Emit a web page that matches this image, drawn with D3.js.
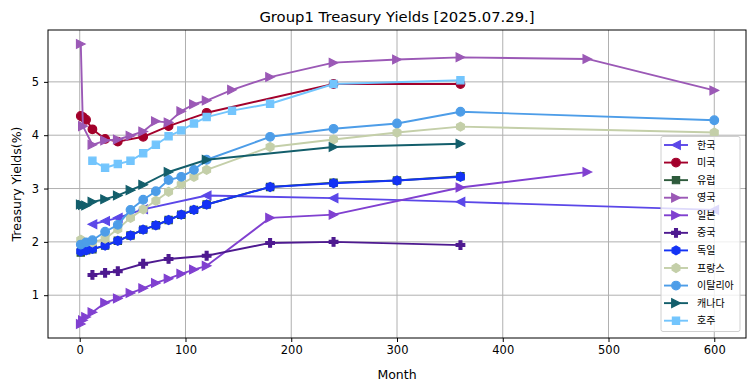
<!DOCTYPE html>
<html>
<head>
<meta charset="utf-8">
<script src="https://cdn.jsdelivr.net/npm/d3@7"></script>
<style>
  html, body { margin: 0; padding: 0; background: #fff; }
  svg { display: block; }
</style>
</head>
<body>
<svg id="chart" width="755" height="391"></svg>
<script>
// ---- data ----
const chartTitle = "Group1 Treasury Yields [2025.07.29.]";
const xLabel = "Month";
const yLabel = "Treasury Yields(%)";
const xTicks = [0, 100, 200, 300, 400, 500, 600];
const yTicks = [1, 2, 3, 4, 5];

const seriesNames = ["한국", "미국", "유럽", "영국", "일본", "중국", "독일", "프랑스", "이탈리아", "캐나다", "호주"];

const koreaMonths = [12, 24, 36, 60, 120, 240, 360, 600];
const koreaYields = [2.33, 2.39, 2.45, 2.61, 2.87, 2.82, 2.75, 2.60];

const usMonths = [1, 3, 6, 12, 24, 36, 60, 84, 120, 240, 360];
const usYields = [4.36, 4.34, 4.29, 4.11, 3.93, 3.88, 3.97, 4.17, 4.42, 4.96, 4.96];

const euMonths = [1, 6, 12, 24, 36, 48, 60, 72, 84, 96, 108, 120, 180, 240, 300, 360];
const euYields = [1.80, 1.84, 1.86, 1.93, 2.02, 2.12, 2.23, 2.31, 2.41, 2.51, 2.60, 2.70, 3.03, 3.11, 3.15, 3.23];

const ukMonths = [1, 3, 12, 24, 36, 48, 60, 72, 84, 96, 108, 120, 144, 180, 240, 300, 360, 480, 600];
const ukYields = [5.71, 4.17, 3.82, 3.90, 3.92, 3.99, 4.07, 4.26, 4.24, 4.45, 4.58, 4.65, 4.85, 5.09, 5.36, 5.42, 5.46, 5.43, 4.84];

const japanMonths = [1, 3, 6, 12, 24, 36, 48, 60, 72, 84, 96, 108, 120, 180, 240, 360, 480];
const japanYields = [0.46, 0.53, 0.59, 0.68, 0.86, 0.94, 1.04, 1.13, 1.23, 1.31, 1.40, 1.48, 1.55, 2.45, 2.51, 3.02, 3.31];

const chinaMonths = [12, 24, 36, 60, 84, 120, 180, 240, 360];
const chinaYields = [1.38, 1.42, 1.45, 1.59, 1.68, 1.74, 1.98, 2.00, 1.94];

const germanyMonths = [1, 6, 12, 24, 36, 48, 60, 72, 84, 96, 108, 120, 180, 240, 300, 360];
const germanyYields = [1.82, 1.84, 1.87, 1.93, 2.02, 2.12, 2.23, 2.31, 2.41, 2.51, 2.60, 2.70, 3.03, 3.10, 3.15, 3.22];

const franceMonths = [1, 12, 24, 36, 48, 60, 72, 84, 96, 108, 120, 180, 240, 300, 360, 600];
const franceYields = [2.04, 1.99, 2.06, 2.24, 2.45, 2.61, 2.77, 2.94, 3.08, 3.22, 3.35, 3.78, 3.92, 4.05, 4.16, 4.05];

const italyMonths = [1, 6, 12, 24, 36, 48, 60, 72, 84, 96, 108, 120, 180, 240, 300, 360, 600];
const italyYields = [1.95, 1.99, 2.03, 2.19, 2.32, 2.60, 2.79, 2.95, 3.16, 3.22, 3.35, 3.54, 3.97, 4.12, 4.22, 4.44, 4.28];

const canadaMonths = [1, 3, 6, 12, 24, 36, 48, 60, 84, 120, 240, 360];
const canadaYields = [2.70, 2.69, 2.68, 2.75, 2.80, 2.87, 2.97, 3.07, 3.31, 3.54, 3.78, 3.84];

const australiaMonths = [12, 24, 36, 48, 60, 72, 84, 96, 108, 120, 144, 180, 240, 360];
const australiaYields = [3.52, 3.39, 3.46, 3.52, 3.66, 3.82, 3.98, 4.09, 4.22, 4.34, 4.46, 4.59, 4.96, 5.03];

// ---- styles ----
const seriesColors = ["#5b47e8", "#a3002b", "#2e5b3c", "#9b59b6", "#8040d0", "#4e1a90", "#1433f5", "#c4cfa9", "#4d9de8", "#135e6b", "#73c5fd"];
const seriesMarkers = ["<", "o", "s", ">", ">", "P", "h", "h", "o", ">", "s"];

const monthsList = [koreaMonths, usMonths, euMonths, ukMonths, japanMonths, chinaMonths, germanyMonths, franceMonths, italyMonths, canadaMonths, australiaMonths];
const yieldsList = [koreaYields, usYields, euYields, ukYields, japanYields, chinaYields, germanyYields, franceYields, italyYields, canadaYields, australiaYields];

(function draw() {
  const series = seriesNames.map((name, i) => ({
    name, color: seriesColors[i], marker: seriesMarkers[i],
    points: monthsList[i].map((m, j) => ({ x: m, y: yieldsList[i][j] }))
  }));

  const svg = d3.select("#chart");
  const pL = 48, pR = 746, pT = 30, pB = 338;
  const x = d3.scaleLinear().domain([-30, 630]).range([pL, pR]);
  const y = d3.scaleLinear().domain([0.1975, 5.9725]).range([pB, pT]);

  const latin = "'DejaVu Sans', sans-serif";
  const cjk = "'Noto Sans CJK KR', 'DejaVu Sans', sans-serif";

  const grid = svg.append("g");
  grid.selectAll("line.gx").data(xTicks).join("line").attr("class", "gx")
    .attr("x1", d => x(d)).attr("x2", d => x(d)).attr("y1", pT).attr("y2", pB)
    .attr("stroke", "#b0b0b0").attr("stroke-width", 1);
  grid.selectAll("line.gy").data(yTicks).join("line").attr("class", "gy")
    .attr("y1", d => y(d)).attr("y2", d => y(d)).attr("x1", pL).attr("x2", pR)
    .attr("stroke", "#b0b0b0").attr("stroke-width", 1);

  function markerPath(type, s) {
    const h = s / 2;
    switch (type) {
      case "o": return d3.symbol(d3.symbolCircle, Math.PI * h * h)();
      case "s": { const q = s * 0.42; return `M${-q},${-q}L${q},${-q}L${q},${q}L${-q},${q}Z`; }
      case ">": return `M${h},0L${-h},${-h}L${-h},${h}Z`;
      case "<": return `M${-h},0L${h},${-h}L${h},${h}Z`;
      case "h": {
        const r = h * 1.05; let p = "";
        for (let k = 0; k < 6; k++) { const a = Math.PI / 2 + k * Math.PI / 3; p += (k ? "L" : "M") + (r * Math.cos(a)).toFixed(2) + "," + (-r * Math.sin(a)).toFixed(2); }
        return p + "Z";
      }
      case "P": {
        const a = s / 6, b = h;
        return `M${-a},${-b}L${a},${-b}L${a},${-a}L${b},${-a}L${b},${a}L${a},${a}L${a},${b}L${-a},${b}L${-a},${a}L${-b},${a}L${-b},${-a}L${-a},${-a}Z`;
      }
    }
  }
  const mSize = 8.6;

  const plot = svg.append("g");
  const line = d3.line().x(d => x(d.x)).y(d => y(d.y));
  series.forEach(s => {
    const g = plot.append("g");
    g.append("path").attr("d", line(s.points)).attr("fill", "none")
      .attr("stroke", s.color).attr("stroke-width", 1.9).attr("stroke-linejoin", "round").attr("stroke-linecap", "square");
    g.selectAll("path.m").data(s.points).join("path").attr("class", "m")
      .attr("d", markerPath(s.marker, mSize))
      .attr("transform", d => `translate(${x(d.x)},${y(d.y)})`)
      .attr("fill", s.color).attr("stroke", s.color).attr("stroke-width", 1.2);
  });

  const xAxis = svg.append("g").attr("transform", `translate(0,${pB})`)
    .call(d3.axisBottom(x).tickValues(xTicks).tickSize(4).tickPadding(4).tickFormat(d3.format("d")));
  const yAxis = svg.append("g").attr("transform", `translate(${pL},0)`)
    .call(d3.axisLeft(y).tickValues(yTicks).tickSize(4).tickPadding(5).tickFormat(d3.format("d")));
  [xAxis, yAxis].forEach(a => {
    a.select(".domain").remove();
    a.selectAll("text").attr("font-family", latin).attr("font-size", 11.5).attr("fill", "#000");
    a.selectAll("line").attr("stroke", "#000");
  });

  svg.append("rect").attr("x", pL).attr("y", pT).attr("width", pR - pL).attr("height", pB - pT)
    .attr("fill", "none").attr("stroke", "#000").attr("stroke-width", 1);

  svg.append("text").attr("x", (pL + pR) / 2).attr("y", 22).attr("text-anchor", "middle")
    .attr("font-family", latin).attr("font-size", 14.8).text(chartTitle);
  svg.append("text").attr("x", (pL + pR) / 2).attr("y", 379).attr("text-anchor", "middle")
    .attr("font-family", latin).attr("font-size", 12.5).text(xLabel);
  svg.append("text").attr("transform", `translate(21,${(pT + pB) / 2}) rotate(-90)`).attr("text-anchor", "middle")
    .attr("font-family", latin).attr("font-size", 12.5).text(yLabel);

  const lg = svg.append("g");
  const lgX = 661, lgY = 136.5, lgW = 79, lgH = 195, rowH = 17.57, row0 = 145;
  lg.append("rect").attr("x", lgX).attr("y", lgY).attr("width", lgW).attr("height", lgH).attr("rx", 2)
    .attr("fill", "#fff").attr("fill-opacity", 0.8).attr("stroke", "#d0d0d0").attr("stroke-width", 1);
  series.forEach((s, i) => {
    const cy = row0 + i * rowH;
    lg.append("line").attr("x1", 664).attr("x2", 688).attr("y1", cy).attr("y2", cy)
      .attr("stroke", s.color).attr("stroke-width", 1.9);
    lg.append("path").attr("d", markerPath(s.marker, mSize)).attr("transform", `translate(676,${cy})`)
      .attr("fill", s.color).attr("stroke", s.color).attr("stroke-width", 1.2);
    lg.append("text").attr("x", 697).attr("y", cy + 3.6).attr("font-family", cjk).attr("font-size", 10)
      .attr("fill", "#000").text(s.name);
  });
})();
</script>
</body>
</html>
